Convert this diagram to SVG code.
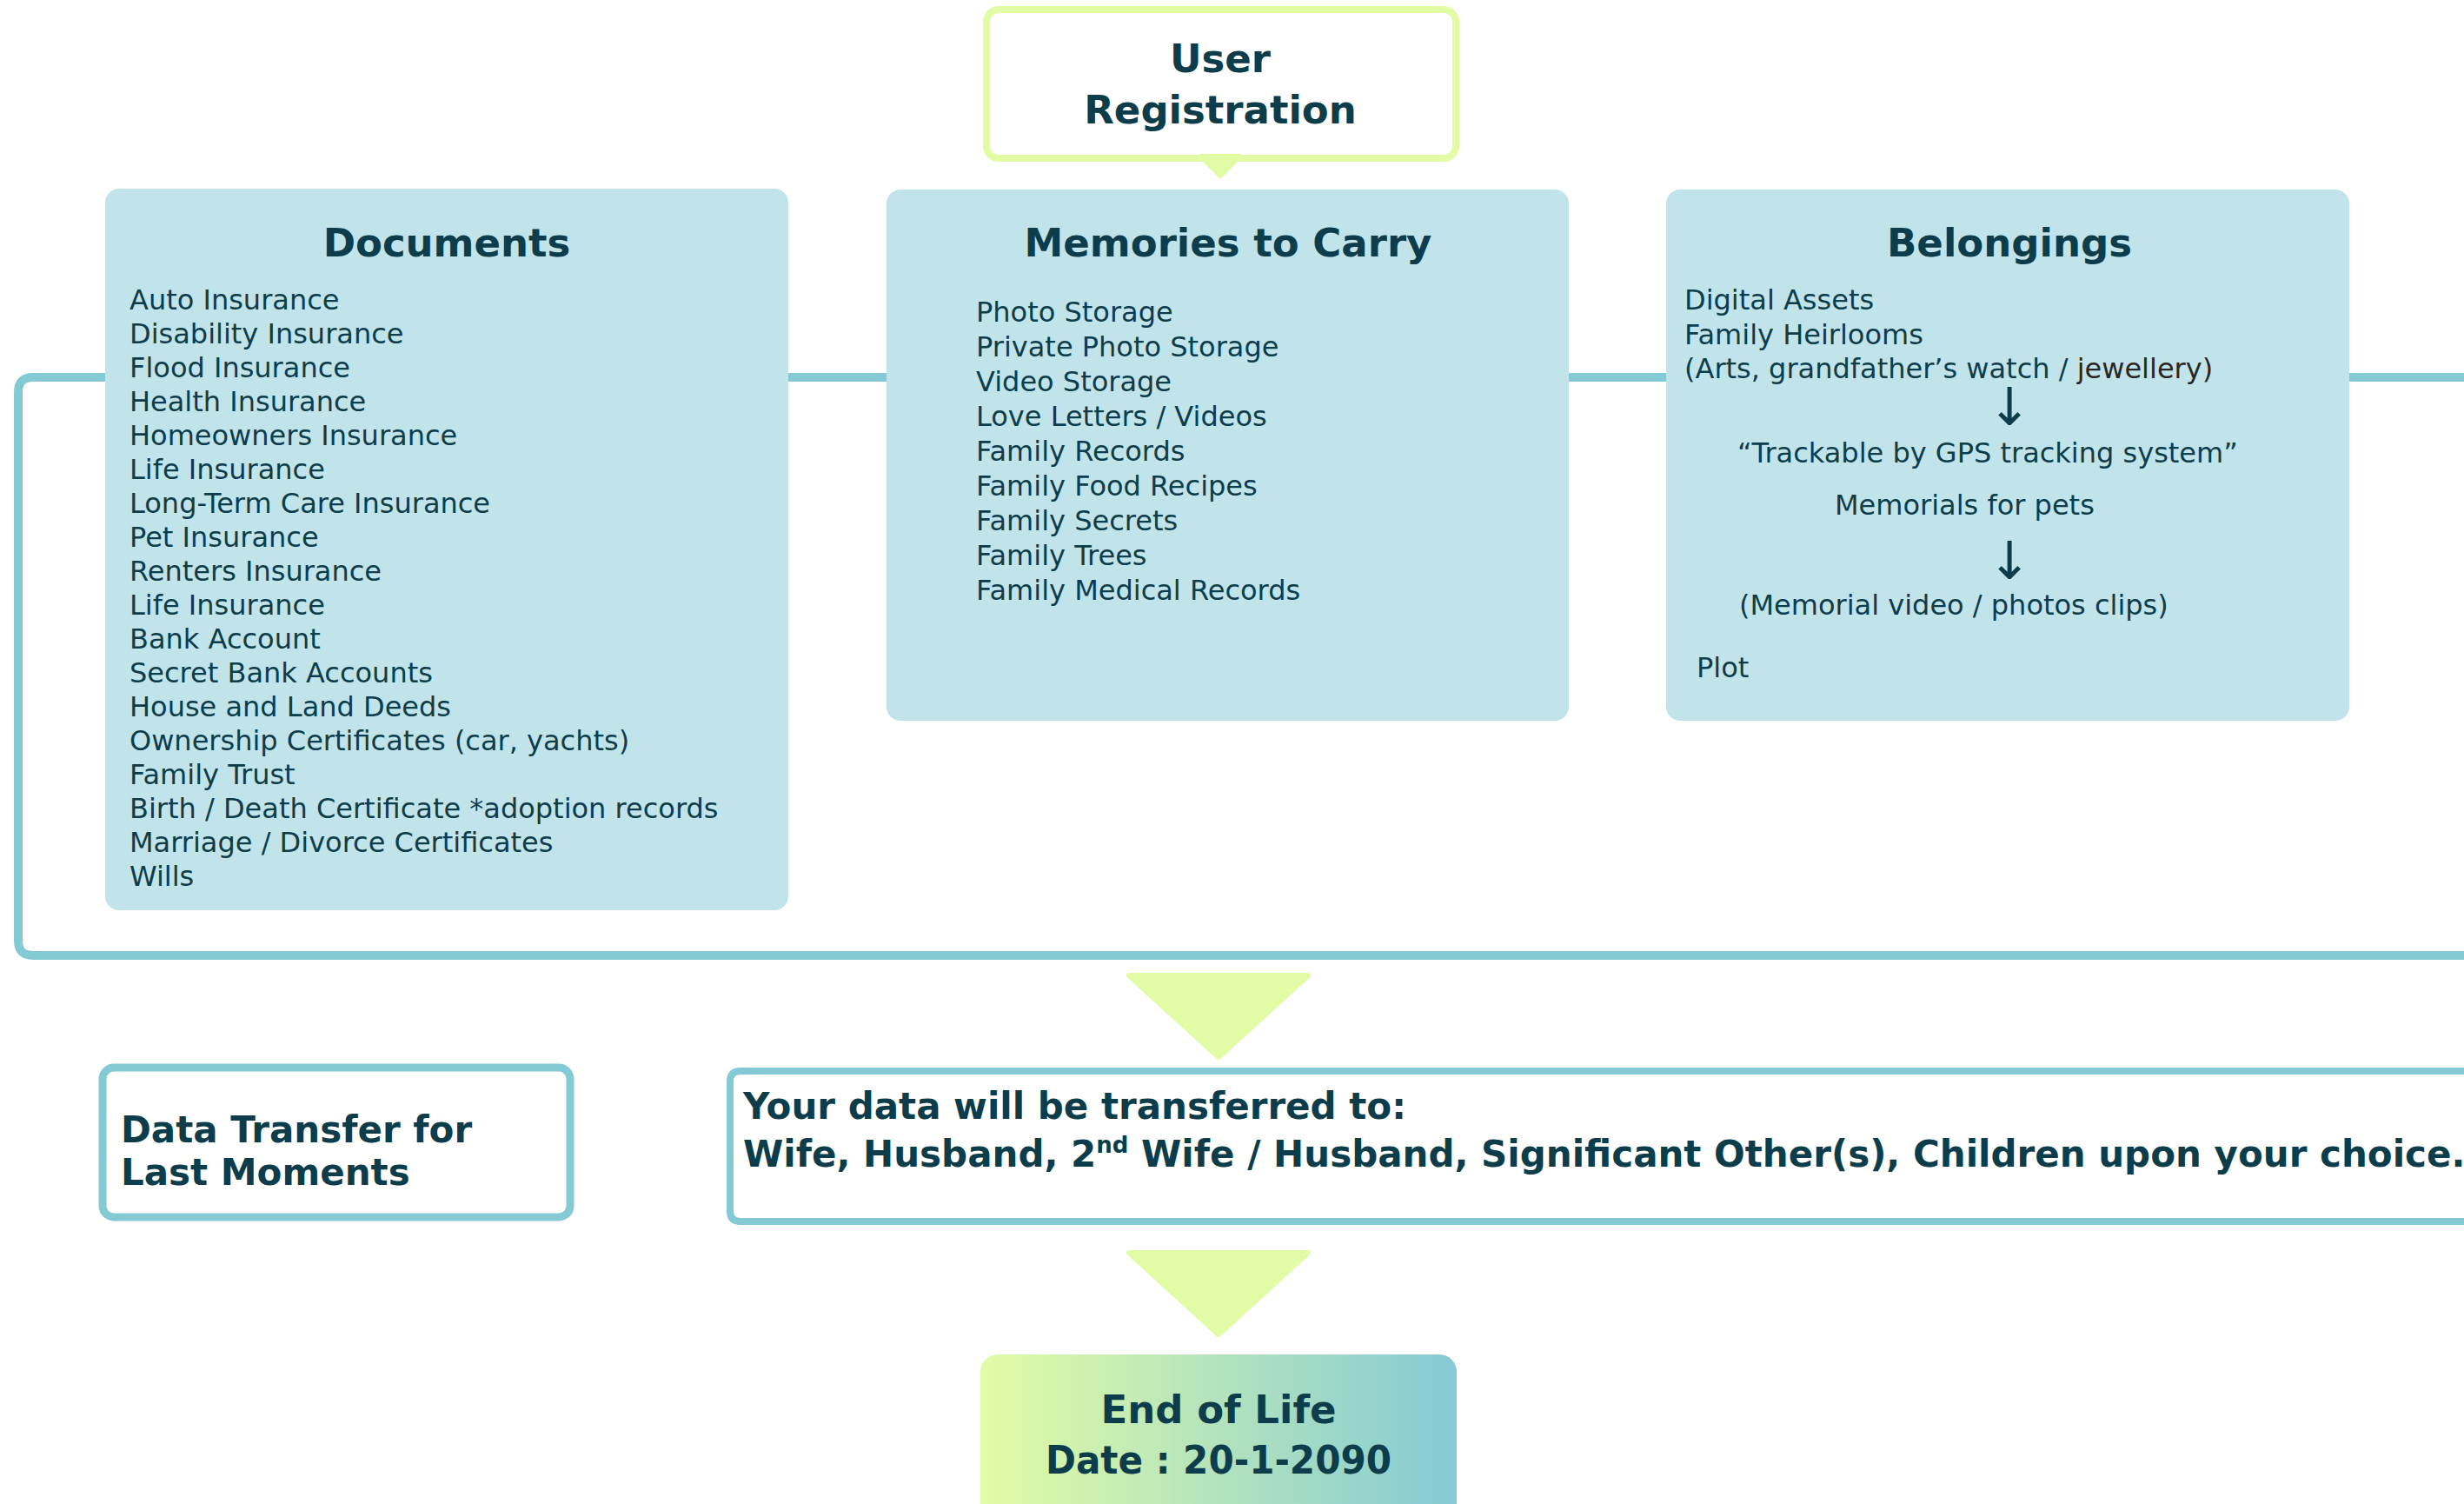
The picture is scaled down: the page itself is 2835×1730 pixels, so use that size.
<svg xmlns="http://www.w3.org/2000/svg" width="2835" height="1730" viewBox="0 0 2835 1730">
  <style>
    .box { fill: #c1e4ea; }
    .head { font-family: "DejaVu Sans", "Liberation Sans", sans-serif; font-weight: bold; font-size: 45px; fill: #0d3d4a; text-anchor: middle; }
    .item { font-family: "DejaVu Sans", "Liberation Sans", sans-serif; font-size: 32px; fill: #0d3d4a; }
    .bold42 { font-family: "DejaVu Sans", "Liberation Sans", sans-serif; font-weight: bold; font-size: 42px; fill: #0d3d4a; }
    .arrow { font-family: "DejaVu Sans", "Liberation Sans", sans-serif; font-size: 60px; fill: #0d3d4a; text-anchor: middle; }
    .line { fill: none; stroke: #84cad5; }
    .tri { fill: #e2fca5; stroke: #e2fca5; stroke-width: 6; stroke-linejoin: round; }
  </style>
  <defs>
    <linearGradient id="eolGrad" x1="0" y1="0" x2="1" y2="0">
      <stop offset="0" stop-color="#e2fca5"/>
      <stop offset="1" stop-color="#84cad5"/>
    </linearGradient>
  </defs>
  <rect width="2835" height="1730" fill="#ffffff"/>

  <g id="connectors">
    <path class="line" stroke-width="10" d="M 2900 434 H 38 Q 21 434 21 451 V 1082 Q 21 1099 38 1099 H 2900"/>
    <path class="tri" d="M 1299 1122 H 1505 L 1402 1216 Z"/>
    <path class="tri" d="M 1299 1441 H 1505 L 1402 1535 Z"/>
  </g>

  <g id="user-registration">
    <rect x="1135" y="11" width="540" height="171" rx="14" fill="#ffffff" stroke="#e2fca5" stroke-width="8"/>
    <path class="tri" d="M 1382 180 H 1426 L 1404 202 Z"/>
    <text class="head" x="1404" y="83" font-size="44">User</text>
    <text class="head" x="1404" y="142" font-size="44">Registration</text>
  </g>

  <g id="documents">
    <rect class="box" x="121" y="217" width="786" height="830" rx="16"/>
    <text class="head" x="514" y="295">Documents</text>
    <text class="item" x="149" y="356">Auto Insurance</text>
    <text class="item" x="149" y="395">Disability Insurance</text>
    <text class="item" x="149" y="434">Flood Insurance</text>
    <text class="item" x="149" y="473">Health Insurance</text>
    <text class="item" x="149" y="512">Homeowners Insurance</text>
    <text class="item" x="149" y="551">Life Insurance</text>
    <text class="item" x="149" y="590">Long-Term Care Insurance</text>
    <text class="item" x="149" y="629">Pet Insurance</text>
    <text class="item" x="149" y="668">Renters Insurance</text>
    <text class="item" x="149" y="707">Life Insurance</text>
    <text class="item" x="149" y="746">Bank Account</text>
    <text class="item" x="149" y="785">Secret Bank Accounts</text>
    <text class="item" x="149" y="824">House and Land Deeds</text>
    <text class="item" x="149" y="863">Ownership Certificates (car, yachts)</text>
    <text class="item" x="149" y="902">Family Trust</text>
    <text class="item" x="149" y="941">Birth / Death Certificate *adoption records</text>
    <text class="item" x="149" y="980">Marriage / Divorce Certificates</text>
    <text class="item" x="149" y="1019">Wills</text>
  </g>

  <g id="memories">
    <rect class="box" x="1020" y="218" width="785" height="611" rx="16"/>
    <text class="head" x="1413" y="295">Memories to Carry</text>
    <text class="item" x="1123" y="370">Photo Storage</text>
    <text class="item" x="1123" y="410">Private Photo Storage</text>
    <text class="item" x="1123" y="450">Video Storage</text>
    <text class="item" x="1123" y="490">Love Letters / Videos</text>
    <text class="item" x="1123" y="530">Family Records</text>
    <text class="item" x="1123" y="570">Family Food Recipes</text>
    <text class="item" x="1123" y="610">Family Secrets</text>
    <text class="item" x="1123" y="650">Family Trees</text>
    <text class="item" x="1123" y="690">Family Medical Records</text>
  </g>

  <g id="belongings">
    <rect class="box" x="1917" y="218" width="786" height="611" rx="16"/>
    <text class="head" x="2312" y="295">Belongings</text>
    <text class="item" x="1938" y="356">Digital Assets</text>
    <text class="item" x="1938" y="396">Family Heirlooms</text>
    <text class="item" x="1938" y="435">(Arts, grandfather’s watch / <tspan fill="#2a2626">jewellery)</tspan></text>
    <text class="arrow" x="2312" y="489">↓</text>
    <text class="item" x="1999" y="532">“Trackable by GPS tracking system”</text>
    <text class="item" x="2111" y="592">Memorials for pets</text>
    <text class="arrow" x="2312" y="666">↓</text>
    <text class="item" x="2001" y="707">(Memorial video / photos clips)</text>
    <text class="item" x="1952" y="779">Plot</text>
  </g>

  <g id="data-transfer">
    <rect x="118" y="1228" width="538" height="172" rx="13" fill="#ffffff" stroke="#84cad5" stroke-width="9"/>
    <text class="bold42" x="139" y="1314" font-size="43">Data Transfer for</text>
    <text class="bold42" x="139" y="1363" font-size="43">Last Moments</text>
  </g>

  <g id="recipients">
    <path d="M 2900 1232 H 852 Q 840 1232 840 1244 V 1393 Q 840 1405 852 1405 H 2900" fill="#ffffff" stroke="#84cad5" stroke-width="8"/>
    <text class="bold42" x="855" y="1287">Your data will be transferred to:</text>
    <text class="bold42" x="855" y="1342">Wife, Husband, 2<tspan font-size="26" dy="-16">nd</tspan><tspan dy="16"> Wife / Husband, Significant Other(s), Children upon your choice.</tspan></text>
  </g>

  <g id="end-of-life">
    <rect x="1128" y="1558" width="548" height="230" rx="20" fill="url(#eolGrad)"/>
    <text class="head" x="1402" y="1637" font-size="45">End of Life</text>
    <text class="head" x="1402" y="1695" font-size="45" textLength="398" lengthAdjust="spacingAndGlyphs">Date : 20-1-2090</text>
  </g>
</svg>
